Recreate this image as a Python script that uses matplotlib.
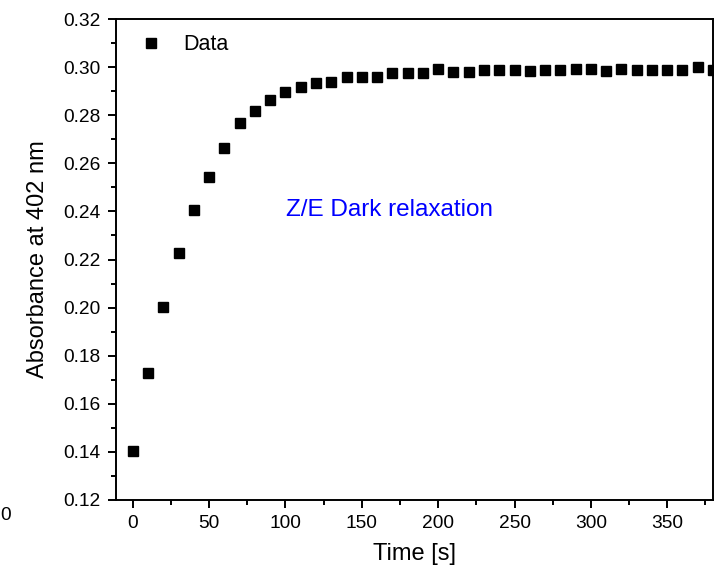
import matplotlib
matplotlib.use("Agg")
import matplotlib.pyplot as plt
from matplotlib.ticker import MultipleLocator, FormatStrFormatter

plt.rcParams['font.family'] = ['Liberation Sans', 'DejaVu Sans']

time_s = [0, 10, 20, 30, 40, 50, 60, 70, 80, 90,
          100, 110, 120, 130, 140, 150, 160, 170, 180, 190,
          200, 210, 220, 230, 240, 250, 260, 270, 280, 290,
          300, 310, 320, 330, 340, 350, 360, 370, 380]
absorbance = [0.1402, 0.1726, 0.2001, 0.2226, 0.2404, 0.2545, 0.2663, 0.2767, 0.2817, 0.2863,
              0.2896, 0.2916, 0.2935, 0.2937, 0.2958, 0.2958, 0.2958, 0.2977, 0.2977, 0.2977,
              0.2991, 0.2981, 0.2978, 0.2988, 0.2988, 0.2988, 0.2985, 0.2988, 0.2988, 0.2993,
              0.2993, 0.2982, 0.2992, 0.2989, 0.2989, 0.2989, 0.2989, 0.2999, 0.2989]

series_label = "Data"
annotation = "Z/E Dark relaxation"
x_label = "Time [s]"
y_label = "Absorbance at 402 nm"
stray_label = "0"

fig = plt.figure(figsize=(7.25, 5.69), dpi=100)
ax = fig.add_axes([116/725, 1 - 500/569, (713 - 116)/725, (500 - 19)/569])

ax.plot(time_s, absorbance, linestyle='none', marker='s', markersize=7.6,
        color='black', label=series_label)

ax.set_xlim(-11, 380)
ax.set_ylim(0.12, 0.32)
ax.xaxis.set_major_locator(MultipleLocator(50))
ax.xaxis.set_minor_locator(MultipleLocator(25))
ax.yaxis.set_major_locator(MultipleLocator(0.02))
ax.yaxis.set_minor_locator(MultipleLocator(0.01))
ax.yaxis.set_major_formatter(FormatStrFormatter('%.2f'))

for s in ax.spines.values():
    s.set_linewidth(1.4)

ax.tick_params(which='major', direction='out', length=6, width=1.4,
               labelsize=13.8, pad=5, top=False, right=False)
ax.tick_params(which='minor', direction='out', length=3.5, width=1.4,
               top=False, right=False)

ax.set_xlabel(x_label, fontsize=17, labelpad=7.5)
ax.set_ylabel(y_label, fontsize=17, labelpad=10)

ax.text(100.5, 0.2405, annotation, color='#0000ff', fontsize=17.5,
        va='center', ha='left')

ax.legend(loc='upper left', bbox_to_anchor=(0.005, 1.0083), frameon=False,
          fontsize=15.5, handletextpad=0.9, borderaxespad=0.5,
          markerscale=1.0, handlelength=1.2)

fig.text(0.0, 1 - 515/569, stray_label, fontsize=13.8, va='center', ha='left')

fig.savefig("out.png", dpi=100)
